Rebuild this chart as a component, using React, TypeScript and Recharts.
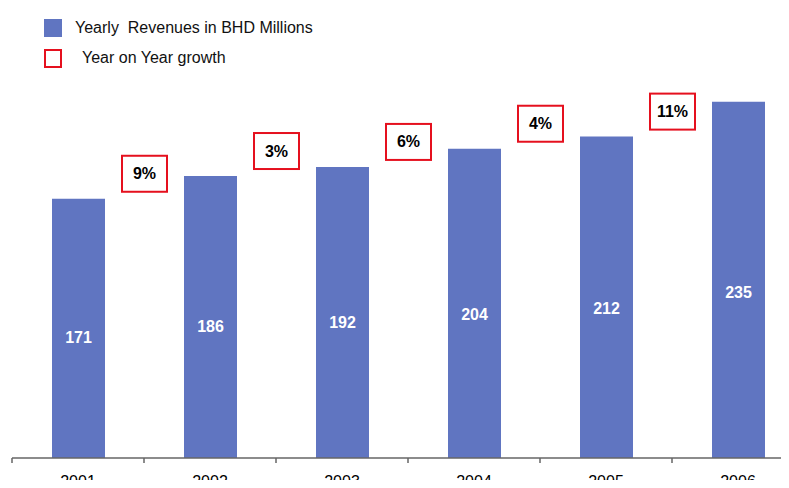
import { BarChart, Bar, XAxis, YAxis, LabelList } from "recharts";

const YEARS = ["2001", "2002", "2003", "2004", "2005", "2006"];
const REVENUES = [171, 186, 192, 204, 212, 235];
// growth vs previous year (none for the first year)
const GROWTH = [null, 9, 3, 6, 4, 11];

const BLUE = "#6075C1";
const RED = "#E5101E";
const AXIS = "#666";
const FONT = "'Liberation Sans', Arial, sans-serif";

const CHART_W = 820;
const MARGIN = { top: 79, right: 16, bottom: 0, left: 12 };
const BAND = (CHART_W - MARGIN.left - MARGIN.right) / YEARS.length;

const data = YEARS.map((year, i) => ({
  year,
  revenue: REVENUES[i],
  nextGrowth: GROWTH[i + 1] ?? null,
}));

function ValueLabel(props: any) {
  const { x, y, width, height, value } = props;
  return (
    <text
      x={x + width / 2}
      y={y + height * 0.535}
      textAnchor="middle"
      dominantBaseline="central"
      fill="#fff"
      fontFamily={FONT}
      fontWeight="bold"
      fontSize={16}
    >
      {value}
    </text>
  );
}

// growth box sits on the boundary right of the bar, a bit above its top
function GrowthLabel(props: any) {
  const { x, y, width, value } = props;
  if (value == null) return null;
  const cx = x + width / 2 + BAND / 2;
  const cy = y - 25;
  return (
    <g>
      <rect
        x={cx - 22.5}
        y={cy - 18}
        width={45}
        height={36}
        fill="#fff"
        stroke={RED}
        strokeWidth={2}
      />
      <text
        x={cx}
        y={cy}
        textAnchor="middle"
        dominantBaseline="central"
        fill="#000"
        fontFamily={FONT}
        fontWeight="bold"
        fontSize={16}
      >
        {value}%
      </text>
    </g>
  );
}

// year label plus a tick mark on the left edge of each category
function YearTick(props: any) {
  const { x, y, payload } = props;
  return (
    <g>
      <line x1={x - BAND / 2} y1={y} x2={x - BAND / 2} y2={y + 5} stroke={AXIS} strokeWidth={1.5} />
      <text
        x={x}
        y={y + 23}
        textAnchor="middle"
        dominantBaseline="central"
        fill="#000"
        fontFamily={FONT}
        fontSize={16}
      >
        {payload.value}
      </text>
    </g>
  );
}

export default function App() {
  return (
    <div
      style={{
        position: "relative",
        margin: -8,
        width: 789,
        height: 488,
        overflow: "hidden",
        background: "#fff",
        fontFamily: FONT,
      }}
    >
      <div style={{ position: "absolute", left: 44, top: 19, fontSize: 16, color: "#111" }}>
        <div style={{ display: "flex", alignItems: "center", height: 18 }}>
          <span style={{ width: 18, height: 18, background: BLUE, display: "inline-block" }} />
          <span style={{ marginLeft: 13, whiteSpace: "pre" }}>Yearly  Revenues in BHD Millions</span>
        </div>
        <div style={{ display: "flex", alignItems: "center", height: 18, marginTop: 12 }}>
          <span
            style={{
              width: 14,
              height: 15,
              border: `2px solid ${RED}`,
              display: "inline-block",
            }}
          />
          <span style={{ marginLeft: 20 }}>Year on Year growth</span>
        </div>
      </div>
      <div style={{ position: "absolute", left: 0, top: 0 }}>
        <BarChart width={CHART_W} height={488} data={data} margin={MARGIN} barSize={53}>
          <XAxis
            dataKey="year"
            height={30}
            axisLine={{ stroke: AXIS, strokeWidth: 1.5 }}
            tickLine={false}
            tickSize={0}
            tickMargin={0}
            interval={0}
            tick={<YearTick />}
          />
          <YAxis domain={[0, 250]} hide />
          <Bar dataKey="revenue" fill={BLUE} isAnimationActive={false}>
            <LabelList dataKey="revenue" content={<ValueLabel />} />
            <LabelList dataKey="nextGrowth" content={<GrowthLabel />} />
          </Bar>
        </BarChart>
      </div>
    </div>
  );
}
